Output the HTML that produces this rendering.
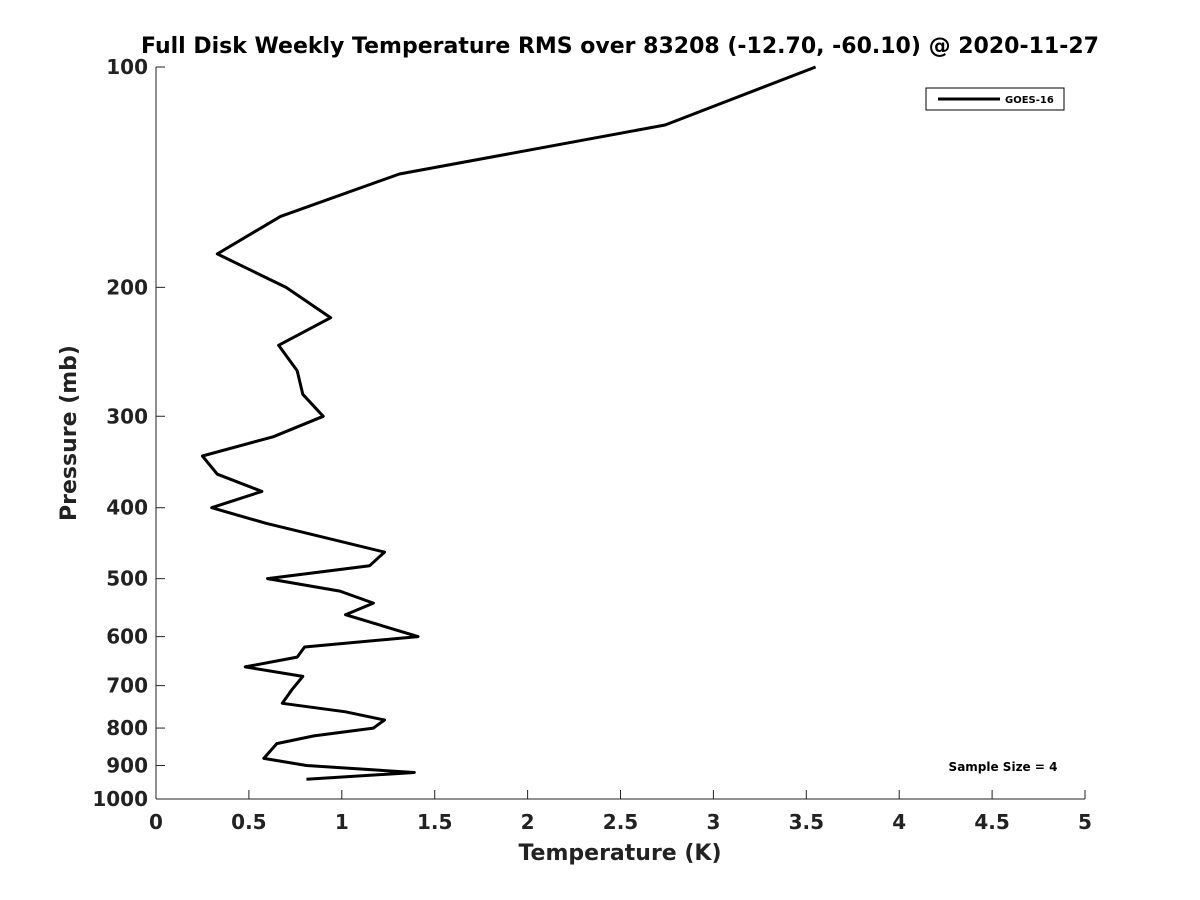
<!DOCTYPE html>
<html><head><meta charset="utf-8"><style>
html,body{margin:0;padding:0;background:#fff;}
svg{display:block;font-family:"DejaVu Sans","Liberation Sans",sans-serif;}
</style></head><body>
<svg id="chart" width="1200" height="900">
<rect width="1200" height="900" fill="#fff"/>
<text x="620" y="53" text-anchor="middle" font-size="22" font-weight="bold" fill="#000">Full Disk Weekly Temperature RMS over 83208 (-12.70, -60.10) @ 2020-11-27</text>
<g id="axes"></g>
<polyline id="series" fill="none" stroke="#000" stroke-width="3" stroke-linejoin="round"/>
<g>
<rect x="926" y="88" width="138" height="22" fill="#fff" stroke="#000" stroke-width="1"/>
<line x1="938" y1="99" x2="1000" y2="99" stroke="#000" stroke-width="3"/>
<text x="1005" y="103" font-size="10" font-weight="bold">GOES-16</text>
</g>
<text x="1003" y="771" text-anchor="middle" font-size="12" font-weight="bold">Sample Size = 4</text>
<text x="620" y="860" text-anchor="middle" font-size="22" font-weight="bold" fill="#222">Temperature (K)</text>
<text transform="translate(76,433) rotate(-90)" text-anchor="middle" font-size="22" font-weight="bold" fill="#222">Pressure (mb)</text>
</svg>
<script>
const xTicks=[0,0.5,1,1.5,2,2.5,3,3.5,4,4.5,5];
const xTickLabels=["0","0.5","1","1.5","2","2.5","3","3.5","4","4.5","5"];
const yTicks=[100,200,300,400,500,600,700,800,900,1000];
const yTickLabels=["100","200","300","400","500","600","700","800","900","1000"];
const pressures=[100,120,140,160,180,200,220,240,260,280,300,320,340,360,380,400,420,460,480,500,520,540,560,600,620,640,660,680,710,740,760,780,800,820,840,880,900,920,940];
const rmsValues=[3.55,2.74,1.31,0.67,0.33,0.70,0.94,0.66,0.76,0.79,0.90,0.63,0.25,0.33,0.57,0.30,0.59,1.23,1.15,0.60,0.99,1.17,1.02,1.41,0.80,0.76,0.48,0.79,0.73,0.68,1.02,1.23,1.17,0.85,0.65,0.58,0.81,1.39,0.81];
const X0=156,X1=1085,Y0=67,Y1=799;
function xs(v){return X0+(v-0)/(5-0)*(X1-X0);}
function ys(p){return Y0+Math.log10(p/100)*(Y1-Y0);}
const ns="http://www.w3.org/2000/svg";
const axes=document.getElementById('axes');
function mk(tag,attrs){const e=document.createElementNS(ns,tag);for(const k in attrs)e.setAttribute(k,attrs[k]);axes.appendChild(e);return e;}
let a=mk('line',{x1:X0,y1:Y0,x2:X0,y2:Y1,stroke:'#222','stroke-width':1});


a=mk('line',{x1:X0,y1:Y1,x2:X1,y2:Y1,stroke:'#222','stroke-width':1});


xTicks.forEach((t,i)=>{
 const x=xs(t);
 const l=mk('line',{x1:x,y1:Y1,x2:x,y2:Y1-9,stroke:'#222','stroke-width':1});
 
 
 const tx=mk('text',{x:x,y:Y1+30,'text-anchor':'middle','font-size':20,'font-weight':'bold',fill:'#222'});
 tx.textContent=xTickLabels[i];
 
 
});
yTicks.forEach((t,i)=>{
 const y=ys(t);
 const l=mk('line',{x1:X0,y1:y,x2:X0+9,y2:y,stroke:'#222','stroke-width':1});
 
 
 const tx=mk('text',{x:X0-8,y:y+7,'text-anchor':'end','font-size':20,'font-weight':'bold',fill:'#222'});
 tx.textContent=yTickLabels[i];
 
 
});
document.getElementById('series').setAttribute('points',pressures.map((p,i)=>xs(rmsValues[i]).toFixed(1)+','+ys(p).toFixed(1)).join(' '));
</script>
</body></html>
